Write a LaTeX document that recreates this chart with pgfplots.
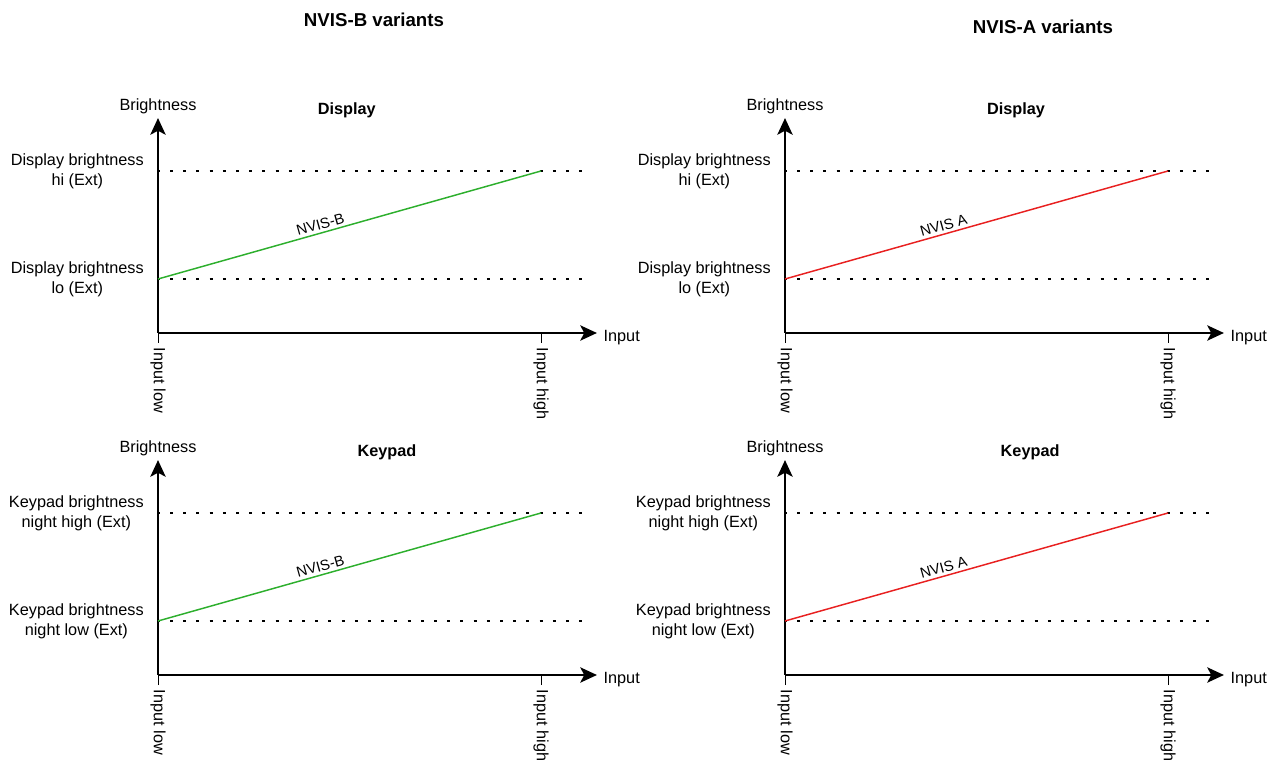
\documentclass[border=0pt]{standalone}
\usepackage{pgfplots}
\pgfplotsset{compat=1.18}
\usepackage{fontspec}
\setmainfont{Liberation Sans}
\usetikzlibrary{arrows.meta}
\definecolor{nvisb}{RGB}{45,175,45}
\definecolor{nvisa}{RGB}{232,32,32}
\newcommand{\lbl}{\fontsize{12.2}{15}\selectfont}
\tikzset{clbl/.style={pos=0.43, sloped, above, inner sep=2pt, text=black, font=\fontsize{11}{13}\selectfont}}
\pgfplotsset{
  panel/.style={
    anchor=origin,
    x=287.25pt, y=40.5pt,
    xmin=0, xmax=1.146, ymin=0, ymax=3.98,
    clip=false,
    axis x line=bottom, axis y line=left,
    x axis line style={line width=1.5pt, -{Stealth[length=12.5pt,width=11.5pt,inset=3pt]}},
    y axis line style={line width=1.5pt, -{Stealth[length=12.5pt,width=11.5pt,inset=3pt]}},
    xtick={0,1}, xticklabels={Input low, Input high},
    ytick={1,3},
    tick align=outside,
    major tick length=7.5pt,
    xtick style={line width=0.75pt, black},
    ytick style={draw=none},
    xticklabel style={rotate=-90, anchor=west, inner ysep=0pt, inner xsep=3.5pt, font=\lbl},
    yticklabel style={align=center, anchor=east, inner sep=0pt, xshift=-3pt, font=\lbl},
    xlabel={Input},
    every axis x label/.style={at={(axis cs:1.146,0)}, anchor=west, xshift=1.5pt, yshift=-3.5pt, font=\lbl},
    ylabel={Brightness},
    every axis y label/.style={at={(axis cs:0,4.2)}, anchor=center, font=\lbl},
  },
  lim/.style={black, line width=2.2pt, dash pattern=on 2.2pt off 7.7pt, dash phase=0.9pt, forget plot},
  curve/.style={line width=1.1pt},
}
\begin{document}
\begin{tikzpicture}[x=0.75pt, y=0.75pt]
\useasboundingbox (0,0) rectangle (1278,760);
\node[font=\bfseries\fontsize{14}{16}\selectfont] at (374,740) {NVIS-B variants};
\node[font=\bfseries\fontsize{14}{16}\selectfont] at (1043,733) {NVIS-A variants};

% Top-left: NVIS-B Display
\begin{axis}[panel, at={(118.5pt,320.25pt)},
  yticklabels={{Display brightness\\lo (Ext)},{Display brightness\\hi (Ext)}}]
\addplot[lim] coordinates {(0,3) (1.123,3)};
\addplot[lim] coordinates {(0,1) (1.123,1)};
\addplot[curve, nvisb] coordinates {(0,1) (1,3)} node[clbl] {NVIS-B};
\node[font=\bfseries\lbl] at (axis cs:0.493,4.12) {Display};
\end{axis}

% Top-right: NVIS-A Display
\begin{axis}[panel, at={(588.75pt,320.25pt)},
  yticklabels={{Display brightness\\lo (Ext)},{Display brightness\\hi (Ext)}}]
\addplot[lim] coordinates {(0,3) (1.123,3)};
\addplot[lim] coordinates {(0,1) (1.123,1)};
\addplot[curve, nvisa] coordinates {(0,1) (1,3)} node[clbl, pos=0.42] {NVIS A};
\node[font=\bfseries\lbl] at (axis cs:0.603,4.12) {Display};
\end{axis}

% Bottom-left: NVIS-B Keypad
\begin{axis}[panel, at={(118.5pt,63.75pt)},
  yticklabels={{Keypad brightness\\night low (Ext)},{Keypad brightness\\night high (Ext)}}]
\addplot[lim] coordinates {(0,3) (1.123,3)};
\addplot[lim] coordinates {(0,1) (1.123,1)};
\addplot[curve, nvisb] coordinates {(0,1) (1,3)} node[clbl] {NVIS-B};
\node[font=\bfseries\lbl] at (axis cs:0.598,4.12) {Keypad};
\end{axis}

% Bottom-right: NVIS-A Keypad
\begin{axis}[panel, at={(588.75pt,63.75pt)},
  yticklabels={{Keypad brightness\\night low (Ext)},{Keypad brightness\\night high (Ext)}}]
\addplot[lim] coordinates {(0,3) (1.123,3)};
\addplot[lim] coordinates {(0,1) (1.123,1)};
\addplot[curve, nvisa] coordinates {(0,1) (1,3)} node[clbl, pos=0.42] {NVIS A};
\node[font=\bfseries\lbl] at (axis cs:0.64,4.12) {Keypad};
\end{axis}
\end{tikzpicture}
\end{document}
